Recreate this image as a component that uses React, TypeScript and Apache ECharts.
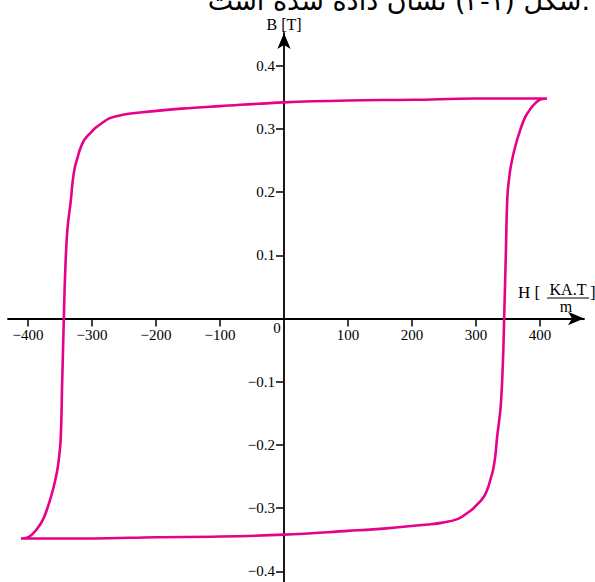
import React, { useEffect, useRef } from "react";
import * as echarts from "echarts";

// Tick values on each axis (0 is labelled separately at the origin)
const xTicks = [-400, -300, -200, -100, 100, 200, 300, 400];
const yTicks = [-0.4, -0.3, -0.2, -0.1, 0.1, 0.2, 0.3, 0.4];

// Descending branch of the hysteresis loop (H in KA.T/m, B in T)
const upperH = [411, 405, 398, 380, 300, 200, 100, 0, -100, -160, -225, -248, -272, -287.5, -295.3, -303, -308.6, -313.6, -319, -322.7, -326.6, -330, -333, -338.5, -342, -344, -346.5, -349, -352, -355, -361, -369, -377, -386, -394, -398, -402, -411];
const upperB = [0.348, 0.348, 0.348, 0.348, 0.348, 0.346, 0.345, 0.342, 0.336, 0.332, 0.326, 0.323, 0.317, 0.307, 0.301, 0.293, 0.287, 0.28, 0.267, 0.254, 0.24, 0.219, 0.1875, 0.14, 0.07, 0, -0.097, -0.192, -0.224, -0.244, -0.271, -0.298, -0.319, -0.333, -0.342, -0.345, -0.347, -0.348];

// Ascending branch of the hysteresis loop
const lowerH = [-411, -405, -398, -380, -300, -200, -100, 0, 100, 160, 225, 248, 272, 287.5, 295.3, 303, 308.6, 313.6, 319, 322.7, 326.6, 330, 333, 338.5, 342, 344, 346.5, 349, 352, 355, 361, 369, 377, 386, 394, 398, 402, 411];
const lowerB = [-0.348, -0.348, -0.348, -0.348, -0.348, -0.346, -0.345, -0.342, -0.336, -0.332, -0.326, -0.323, -0.317, -0.307, -0.301, -0.293, -0.287, -0.28, -0.267, -0.254, -0.24, -0.219, -0.1875, -0.14, -0.07, 0, 0.097, 0.192, 0.224, 0.244, 0.271, 0.298, 0.319, 0.333, 0.342, 0.345, 0.347, 0.348];

const curveColor = "#e6008a";
const serif = "'Liberation Serif', 'DejaVu Serif', serif";

export default function App() {
  const ref = useRef<HTMLDivElement>(null);

  useEffect(() => {
    const chart = echarts.init(ref.current!, null, { renderer: "svg" });
    const loop = [
      ...upperH.map((h, i) => [h, upperB[i]]),
      ...lowerH.map((h, i) => [h, lowerB[i]]),
    ];
    const fmt = (v: number) => String(v).replace("-", "\u2212");

    const W = 595;
    const H = 582;
    const gl = 8, gr = 11, gt = 33, gb = 0;
    const xMin = -431.25, xMax = 468.75;
    const yMin = -0.4169, yMax = 0.4517;
    // offsets that bring the axes to the zero lines
    const x0 = gl + ((0 - xMin) / (xMax - xMin)) * (W - gl - gr);
    const y0 = gt + ((yMax - 0) / (yMax - yMin)) * (H - gt - gb);

    chart.setOption({
      animation: false,
      grid: { left: gl, right: gr, top: gt, bottom: gb, containLabel: false, outerBoundsMode: "none" },
      xAxis: {
        type: "value",
        min: xMin,
        max: xMax,
        position: "bottom",
        offset: -(H - gb - y0),
        splitLine: { show: false },
        axisLine: {
          onZero: false,
          lineStyle: { color: "#000", width: 1.8 },
          symbol: ["none", "arrow"],
          symbolSize: [10, 16],
        },
        axisTick: { customValues: xTicks, length: 8, lineStyle: { color: "#000", width: 1.5 } },
        axisLabel: {
          customValues: xTicks,
          formatter: fmt,
          fontFamily: serif,
          fontSize: 15,
          color: "#000",
          margin: 9,
        },
      },
      yAxis: {
        type: "value",
        min: yMin,
        max: yMax,
        position: "left",
        offset: -(x0 - gl),
        splitLine: { show: false },
        axisLine: {
          onZero: false,
          lineStyle: { color: "#000", width: 1.8 },
          symbol: ["none", "arrow"],
          symbolSize: [10, 16],
        },
        axisTick: { customValues: yTicks, length: 8, lineStyle: { color: "#000", width: 1.5 } },
        axisLabel: {
          customValues: yTicks,
          formatter: fmt,
          fontFamily: serif,
          fontSize: 15,
          color: "#000",
          margin: 9,
        },
      },
      graphic: [
        {
          type: "text",
          x: 590,
          y: 14,
          style: {
            text: "شکل (۱-۴) نشان داده شده است.",
            fontFamily: "'DejaVu Sans', sans-serif",
            fontSize: 27,
            fill: "#000",
            align: "right",
            verticalAlign: "bottom",
          },
        },
        {
          type: "text",
          x: 284,
          y: 24,
          style: { text: "B [T]", fontFamily: serif, fontSize: 16, fill: "#000", align: "center", verticalAlign: "middle" },
        },
        {
          type: "text",
          x: 277,
          y: 328,
          style: { text: "0", fontFamily: serif, fontSize: 15, fill: "#000", align: "center", verticalAlign: "middle" },
        },
        {
          type: "text",
          x: 518,
          y: 292,
          style: { text: "H [", fontFamily: serif, fontSize: 17, fill: "#000", align: "left", verticalAlign: "middle" },
        },
        {
          type: "text",
          x: 568,
          y: 289,
          style: { text: "KA.T", fontFamily: serif, fontSize: 16, fill: "#000", align: "center", verticalAlign: "middle" },
        },
        {
          type: "line",
          shape: { x1: 547, y1: 298, x2: 589, y2: 298 },
          style: { stroke: "#000", lineWidth: 1 },
        },
        {
          type: "text",
          x: 566,
          y: 306,
          style: { text: "m", fontFamily: serif, fontSize: 16, fill: "#000", align: "center", verticalAlign: "middle" },
        },
        {
          type: "text",
          x: 590,
          y: 292,
          style: { text: "]", fontFamily: serif, fontSize: 17, fill: "#000", align: "left", verticalAlign: "middle" },
        },
      ],
      series: [
        {
          type: "line",
          data: loop,
          showSymbol: false,
          smooth: 0.4,
          silent: true,
          lineStyle: { color: curveColor, width: 2.6 },
        },
      ],
    });

    return () => chart.dispose();
  }, []);

  return (
    <div
      ref={ref}
      style={{ position: "absolute", left: 0, top: 0, width: 595, height: 582, background: "#fff" }}
    />
  );
}
